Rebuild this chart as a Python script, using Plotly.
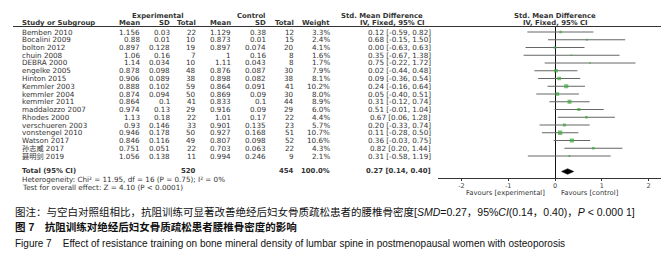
import plotly.graph_objects as go

W, H = 669, 253

studies = ["Bemben 2010", "Bocalini 2009", "bolton 2012", "chuin 2008", "DEBRA 2000",
           "engelke 2005", "Hinton 2015", "Kemmler 2003", "kemmler 2004", "kemmler 2011",
           "maddalozzo 2007", "Rhodes 2000", "verschueren 2003", "vonstengel 2010",
           "Watson 2017", "孙志威 2017", "聂明剑 2019"]
exp_mean = ["1.156", "0.88", "0.897", "1.06", "1.14", "0.878", "0.906", "0.888", "0.874",
            "0.864", "0.974", "1.13", "0.93", "0.946", "0.846", "0.751", "1.056"]
exp_sd = ["0.03", "0.01", "0.128", "0.16", "0.034", "0.098", "0.089", "0.102", "0.094",
          "0.1", "0.13", "0.18", "0.146", "0.178", "0.116", "0.051", "0.138"]
exp_n = [22, 10, 19, 7, 10, 48, 38, 59, 50, 41, 29, 22, 33, 50, 49, 22, 11]
ctl_mean = ["1.129", "0.873", "0.897", "1", "1.11", "0.876", "0.898", "0.864", "0.869",
            "0.833", "0.916", "1.01", "0.901", "0.927", "0.807", "0.703", "0.994"]
ctl_sd = ["0.38", "0.01", "0.074", "0.16", "0.043", "0.087", "0.082", "0.091", "0.09",
          "0.1", "0.09", "0.17", "0.135", "0.168", "0.098", "0.063", "0.246"]
ctl_n = [12, 15, 20, 8, 8, 30, 38, 41, 30, 44, 29, 22, 23, 51, 52, 22, 9]
weight = [3.3, 2.4, 4.1, 1.6, 1.7, 7.9, 8.1, 10.2, 8.0, 8.9, 6.0, 4.4, 5.7, 10.7, 10.6, 4.3, 2.1]
smd = [0.12, 0.68, 0.00, 0.35, 0.75, 0.02, 0.09, 0.24, 0.05, 0.31, 0.51, 0.67, 0.20, 0.11,
       0.36, 0.82, 0.31]
ci_lo = [-0.59, -0.15, -0.63, -0.67, -0.22, -0.44, -0.36, -0.16, -0.40, -0.12, -0.01, 0.06,
         -0.33, -0.28, -0.03, 0.20, -0.58]
ci_hi = [0.82, 1.50, 0.63, 1.38, 1.72, 0.48, 0.54, 0.64, 0.51, 0.74, 1.04, 1.28, 0.74, 0.50,
         0.75, 1.44, 1.19]
total_smd, total_lo, total_hi = 0.27, 0.14, 0.40
total_exp_n, total_ctl_n = 520, 454
axis_ticks = [-2, -1, 0, 1, 2]

heterogeneity = "Heterogeneity: Chi² = 11.95, df = 16 (P = 0.75); I² = 0%"
overall = "Test for overall effect: Z = 4.10 (P < 0.0001)"
caption1 = ("图注：与空白对照组相比，抗阻训练可显著改善绝经后妇女骨质疏松患者的腰椎骨密度"
            "[<i>SMD</i>=0.27，95%<i>CI</i>(0.14，0.40)，<i>P</i> < 0.000 1]")
caption2 = "<b>图 7　抗阻训练对绝经后妇女骨质疏松患者腰椎骨密度的影响</b>"
caption3 = "Figure 7    Effect of resistance training on bone mineral density of lumbar spine in postmenopausal women with osteoporosis"

rows = list(range(len(studies)))
TOTAL_ROW = 18

FONT = "DejaVu Sans, Noto Sans CJK SC, sans-serif"
CAPFONT = "Liberation Sans, Noto Sans CJK SC, sans-serif"
TXT = "#333333"
FS = 7.2      # table font size
FSB = 6.9     # bold table font size

# vertical offset compensating the page's top spacing
DY = -8

fig = go.Figure()

fig.add_trace(go.Scatter(
    x=smd, y=rows, mode="markers",
    marker=dict(symbol="square", color="#3aa83a",
                size=[1.3 * w ** 0.5 for w in weight], line=dict(width=0)),
    error_x=dict(type="data", symmetric=False,
                 array=[h - s for h, s in zip(ci_hi, smd)],
                 arrayminus=[s - l for s, l in zip(smd, ci_lo)],
                 width=0, thickness=1, color="#666666"),
    hoverinfo="skip"))

d = 0.36
fig.add_trace(go.Scatter(
    x=[total_lo, total_smd, total_hi, total_smd, total_lo],
    y=[TOTAL_ROW, TOTAL_ROW - d, TOTAL_ROW, TOTAL_ROW + d, TOTAL_ROW],
    mode="lines", fill="toself", fillcolor="black",
    line=dict(color="black", width=0.5), hoverinfo="skip"))

ann = []


def px(x):
    return x / W


def py(y):
    return 1 - (y + DY) / H


AX_TOP, AX_BOT = 27, 177.5
ROW0_PX, ROW_STEP = 32, 7.75


def rowpx(r):
    return ROW0_PX + r * ROW_STEP


def cell(x, ypx, s, anchor="right", bold=False, size=FS):
    ann.append(dict(x=px(x), y=py(ypx), xref="paper", yref="paper",
                    text=f"<b>{s}</b>" if bold else s,
                    showarrow=False, xanchor=anchor, yanchor="middle",
                    font=dict(family=FONT, size=size, color=TXT), borderpad=0))


C_STUDY = 13
C_EM, C_ESD, C_EN = 133, 163, 189
C_CM, C_CSD, C_CN = 224, 259, 287
C_W = 323
C_SMD = 424

for i, r in enumerate(rows):
    y = rowpx(r)
    cell(C_STUDY, y, studies[i], anchor="left")
    cell(C_EM, y, exp_mean[i])
    cell(C_ESD, y, exp_sd[i])
    cell(C_EN, y, str(exp_n[i]))
    cell(C_CM, y, ctl_mean[i])
    cell(C_CSD, y, ctl_sd[i])
    cell(C_CN, y, str(ctl_n[i]))
    cell(C_W, y, f"{weight[i]:.1f}%")
    cell(C_SMD, y, f"{smd[i]:.2f} [{ci_lo[i]:.2f}, {ci_hi[i]:.2f}]")

yt = 171
cell(C_STUDY, yt, "Total (95% CI)", anchor="left", bold=True, size=FSB)
cell(C_EN, yt, str(total_exp_n), bold=True, size=FSB)
cell(C_CN, yt, str(total_ctl_n), bold=True, size=FSB)
cell(C_W, yt, "100.0%", bold=True, size=FSB)
cell(C_SMD, yt, f"{total_smd:.2f} [{total_lo:.2f}, {total_hi:.2f}]", bold=True, size=FSB)
cell(C_STUDY, 179, heterogeneity, anchor="left")
cell(C_STUDY, 187, overall, anchor="left")

HY1, HY2 = 16, 23.5
cell(150, HY1, "Experimental", anchor="center", bold=True, size=FSB)
cell(243, HY1, "Control", anchor="center", bold=True, size=FSB)
cell(374, HY1, "Std. Mean Difference", anchor="center", bold=True, size=FSB)
cell(547, HY1, "Std. Mean Difference", anchor="center", bold=True, size=FSB)
cell(C_STUDY, HY2, "Study or Subgroup", anchor="left", bold=True, size=FSB)
for xr, t in [(C_EM, "Mean"), (C_ESD, "SD"), (C_EN, "Total"), (C_CM, "Mean"),
              (C_CSD, "SD"), (C_CN, "Total"), (C_W, "Weight")]:
    cell(xr, HY2, t, bold=True, size=FSB)
cell(384, HY2, "IV, Fixed, 95% CI", anchor="center", bold=True, size=FSB)
cell(547, HY2, "IV, Fixed, 95% CI", anchor="center", bold=True, size=FSB)

cell(538, 192.5, "Favours [experimental]", anchor="right", size=6.8)
cell(552, 192.5, "Favours [control]", anchor="left", size=6.8)

for yy, t, sz in [(212, caption1, 10.5), (227, caption2, 10.5), (243, caption3, 10)]:
    ann.append(dict(x=px(5), y=py(yy), xref="paper", yref="paper", text=t, showarrow=False,
                    xanchor="left", yanchor="middle",
                    font=dict(family=CAPFONT, size=sz, color="#111111")))

shapes = [dict(type="line", xref="paper", yref="paper", x0=px(5), x1=px(665),
               y0=py(26.5), y1=py(26.5), line=dict(color="#333333", width=1))]

yr_top = (AX_TOP - ROW0_PX) / ROW_STEP
yr_bot = (AX_BOT - ROW0_PX) / ROW_STEP

fig.update_layout(
    width=W, height=H, margin=dict(l=0, r=0, t=0, b=0),
    paper_bgcolor="white", plot_bgcolor="white", showlegend=False,
    annotations=ann, shapes=shapes,
    xaxis=dict(domain=[px(430), px(664)], range=[-2.5, 2.5], tickvals=axis_ticks,
               ticktext=[str(t) for t in axis_ticks], ticks="outside", ticklen=2,
               tickcolor="#333333", showline=True, linecolor="#333333", linewidth=1,
               zeroline=True, zerolinecolor="#111111", zerolinewidth=1, showgrid=False,
               tickfont=dict(family=FONT, size=6.5, color="#444444"), fixedrange=True),
    yaxis=dict(domain=[py(AX_BOT), py(AX_TOP)], range=[yr_bot, yr_top], visible=False,
               fixedrange=True),
)

fig.write_html("out.html")
